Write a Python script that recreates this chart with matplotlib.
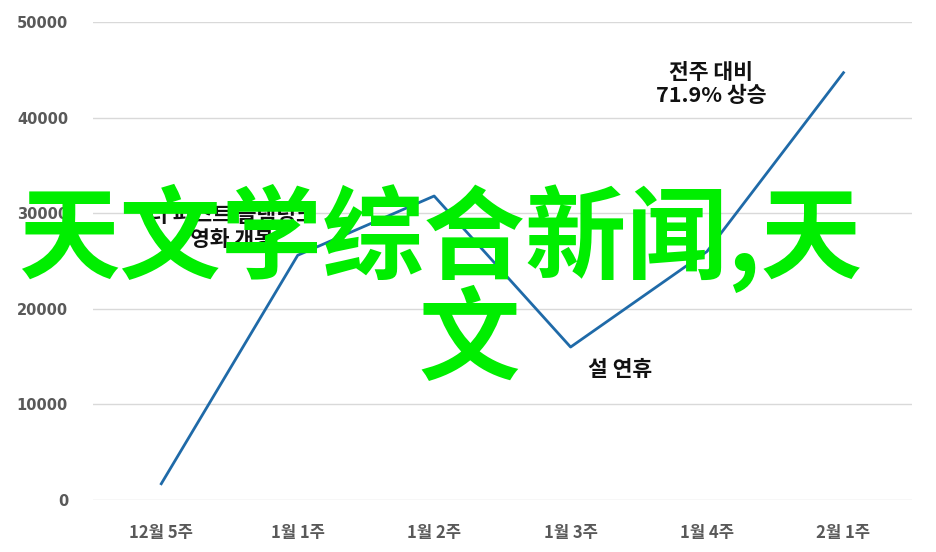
import matplotlib
matplotlib.use("Agg")
import matplotlib.pyplot as plt

# weekly values
weeks = ["12월 5주", "1월 1주", "1월 2주", "1월 3주", "1월 4주", "2월 1주"]
values = [1700, 25600, 31800, 16000, 26000, 44700]
y_ticks = [0, 10000, 20000, 30000, 40000, 50000]

notes = ["더 퍼스트 슬램덩크\n영화 개봉", "설 연휴", "전주 대비\n71.9% 상승"]
note_pos = [(0.52, 28500), (3.36, 13600), (4.03, 43500)]

watermark = ["天文学综合新闻,天", "文"]

plt.rcParams['font.family'] = ['Noto Sans CJK KR', 'DejaVu Sans']

fig = plt.figure(figsize=(9.37, 5.52), dpi=100)
ax = fig.add_axes([0.0993, 0.0942, 0.8737, 0.8659])

x = list(range(len(weeks)))
ax.plot(x, values, color='#1f6aa8', linewidth=2.0, zorder=3)

ax.set_xlim(-0.5, len(weeks) - 0.5)
ax.set_ylim(0, 50000)
ax.set_yticks(y_ticks)
ax.set_yticklabels([str(v) for v in y_ticks])
ax.set_xticks(x)
ax.set_xticklabels(weeks)
ax.grid(axis='y', color='#d9d9d9', linewidth=1.0)
ax.set_axisbelow(True)
for s in ax.spines.values():
    s.set_visible(False)
ax.tick_params(length=0)
ax.tick_params(axis='y', pad=18)
ax.tick_params(axis='x', pad=17)
for lab in ax.get_yticklabels():
    lab.set_fontfamily(['DejaVu Sans'])
    lab.set_fontweight('bold')
    lab.set_fontsize(10.5)
    lab.set_color('#595959')
for lab in ax.get_xticklabels():
    lab.set_fontweight('bold')
    lab.set_fontsize(12)
    lab.set_color('#595959')

for txt, (px, py) in zip(notes, note_pos):
    ax.text(px, py, txt, ha='center', va='center', fontsize=15.5,
            fontweight='bold', color='#111111', linespacing=1.15, zorder=4)

# green overlay text
fig.text(0.47, 0.568, watermark[0], ha='center', va='center', fontsize=73,
         fontweight='bold', color='#00ee00',
         family=['Noto Sans CJK SC', 'DejaVu Sans'], zorder=10)
fig.text(0.501, 0.38, watermark[1], ha='center', va='center', fontsize=73,
         fontweight='bold', color='#00ee00',
         family=['Noto Sans CJK SC', 'DejaVu Sans'], zorder=10)

fig.savefig('out.png', dpi=100)
